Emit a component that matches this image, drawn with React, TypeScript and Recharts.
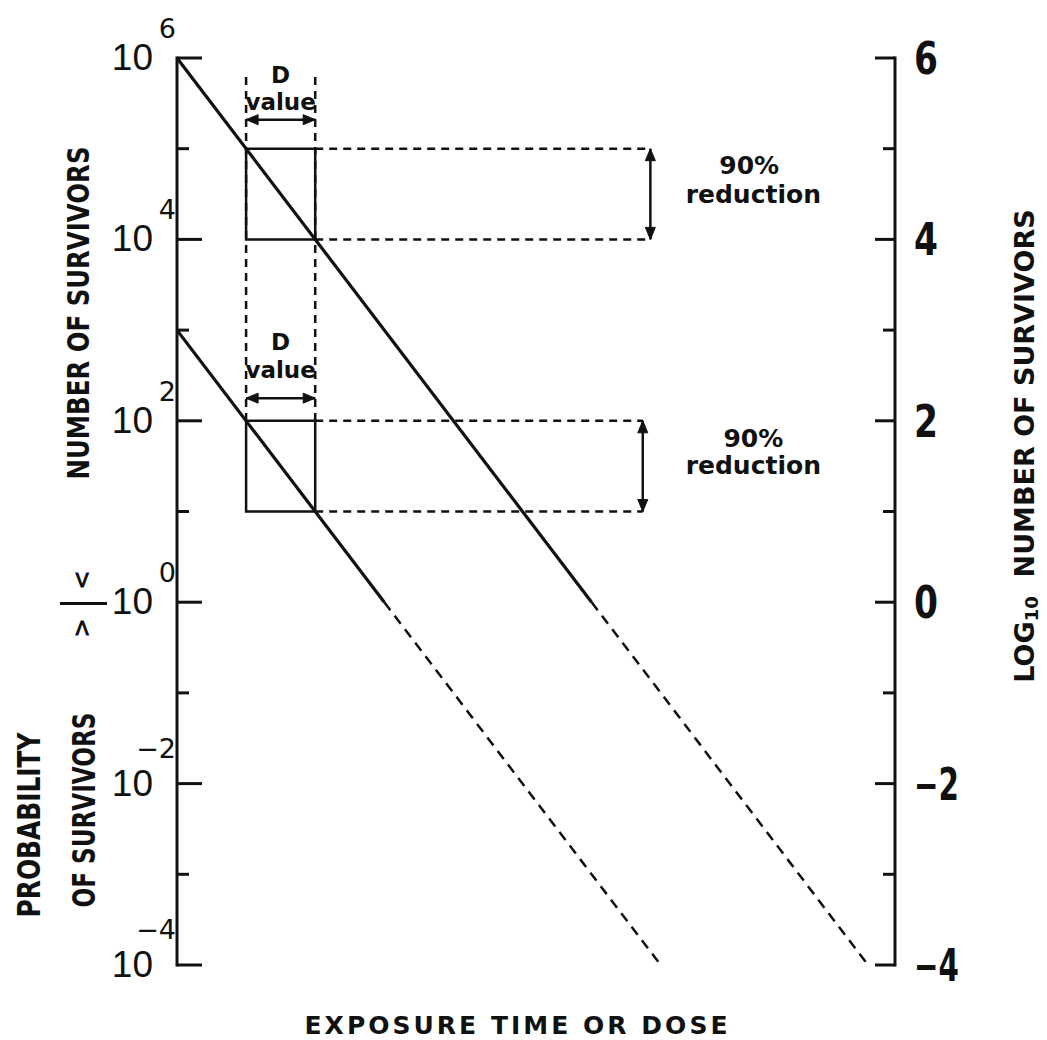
import React from 'react';
import {
  ComposedChart,
  Line,
  XAxis,
  YAxis,
  ReferenceArea,
  ReferenceLine,
  ReferenceDot,
  Customized,
} from 'recharts';

const INK = '#111';
const FONT = '"DejaVu Sans", sans-serif';
const NARROW = '"Liberation Sans", Arial, sans-serif';

// log10 survivors vs dose (dose measured in D values)
const upperDose = [0, 6, 10];
const upperLog = [6, 0, -4];
const lowerDose = [0, 3, 7];
const lowerLog = [3, 0, -4];

const logTicks = [-4, -3, -2, -1, 0, 1, 2, 3, 4, 5, 6];
const labelledTicks = [-4, -2, 0, 2, 4, 6];

// one D value = one log reduction
const dValueDose = [1, 2];
const upperBoxLog = [4, 5];
const lowerBoxLog = [1, 2];

const X_MAX = 10.39;

const toPoints = (xs: number[], ys: number[]) => xs.map((x, i) => ({ x, y: ys[i] }));
// below 10^0 survivors the lines are drawn dashed
const upperSolid = toPoints(upperDose.slice(0, 2), upperLog.slice(0, 2));
const upperDashed = toPoints(upperDose.slice(1), upperLog.slice(1));
const lowerSolid = toPoints(lowerDose.slice(0, 2), lowerLog.slice(0, 2));
const lowerDashed = toPoints(lowerDose.slice(1), lowerLog.slice(1));

const fmt = (v: number) => (v < 0 ? `\u2212${-v}` : `${v}`);

const LeftTick = (p: any) => {
  const { x, y, payload } = p;
  const v = payload.value;
  const major = labelledTicks.includes(v);
  return (
    <g>
      <line x1={x} x2={x + (major ? 25 : 12)} y1={y} y2={y} stroke={INK} strokeWidth={3} />
      {major && (
        <text x={x - 24} y={y + 12} textAnchor="end" fontSize={37} fill={INK} fontFamily={NARROW}>
          10
        </text>
      )}
      {major && (
        <text
          x={x - 1}
          y={y - (v < 0 ? 26 : 20)}
          textAnchor="end"
          fontSize={27}
          fill={INK}
          fontFamily={FONT}
        >
          {fmt(v)}
        </text>
      )}
    </g>
  );
};

const RightTick = (p: any) => {
  const { x, y, payload } = p;
  const v = payload.value;
  const major = labelledTicks.includes(v);
  const label = fmt(v);
  return (
    <g>
      <line x1={x - (major ? 20 : 12)} x2={x} y1={y} y2={y} stroke={INK} strokeWidth={3} />
      {major && (
        <text
          x={x + 19}
          y={y + 16}
          fontSize={44}
          fontWeight="bold"
          textLength={label.length > 1 ? 45 : 24}
          lengthAdjust="spacingAndGlyphs"
          fill={INK}
          fontFamily={FONT}
        >
          {label}
        </text>
      )}
    </g>
  );
};

const arrowHead = (dir: 'up' | 'down' | 'left' | 'right') => (p: any) => {
  const { cx, cy } = p;
  const L = 12;
  const W = 5;
  let d = '';
  if (dir === 'up') d = `M${cx},${cy} L${cx - W},${cy + L} L${cx + W},${cy + L} Z`;
  if (dir === 'down') d = `M${cx},${cy} L${cx - W},${cy - L} L${cx + W},${cy - L} Z`;
  if (dir === 'left') d = `M${cx},${cy} L${cx + L},${cy - W} L${cx + L},${cy + W} Z`;
  if (dir === 'right') d = `M${cx},${cy} L${cx - L},${cy - W} L${cx - L},${cy + W} Z`;
  return <path d={d} fill={INK} stroke={INK} strokeWidth={1} />;
};

const textShape = (text: string, size: number) => (p: any) => (
  <text
    x={p.cx}
    y={p.cy}
    textAnchor="middle"
    dominantBaseline="central"
    fontSize={size}
    fontWeight="bold"
    fill={INK}
    fontFamily={FONT}
  >
    {text}
  </text>
);

// annotation placement (data coordinates)
const reductionArrows = [
  { x: 6.85, top: upperBoxLog[1], bottom: upperBoxLog[0] },
  { x: 6.74, top: lowerBoxLog[1], bottom: lowerBoxLog[0] },
];
const dArrows = [5.32, 2.25];
const notes = [
  { x: 1.5, y: 5.81, text: 'D', size: 23 },
  { x: 1.5, y: 5.52, text: 'value', size: 23 },
  { x: 1.5, y: 2.87, text: 'D', size: 23 },
  { x: 1.5, y: 2.56, text: 'value', size: 23 },
  { x: 8.28, y: 4.82, text: '90%', size: 25 },
  { x: 8.34, y: 4.5, text: 'reduction', size: 25 },
  { x: 8.34, y: 1.81, text: '90%', size: 25 },
  { x: 8.34, y: 1.51, text: 'reduction', size: 25 },
];

const Titles = () => (
  <g fontFamily={FONT} fill={INK} fontWeight="bold">
    <text
      transform="translate(70,305) rotate(-90)"
      textAnchor="middle"
      dominantBaseline="central"
      fontSize={30}
      textLength={333}
      lengthAdjust="spacingAndGlyphs"
    >
      NUMBER OF SURVIVORS
    </text>
    <text transform="translate(74,572) rotate(-90)" textAnchor="middle" dominantBaseline="central" fontSize={24}>
      {'<'}
    </text>
    <rect x={52} y={594} width={47} height={3} fill={INK} />
    <text transform="translate(74,620) rotate(-90)" textAnchor="middle" dominantBaseline="central" fontSize={24}>
      {'>'}
    </text>
    <text
      transform="translate(21,817) rotate(-90)"
      textAnchor="middle"
      dominantBaseline="central"
      fontSize={32}
      textLength={185}
      lengthAdjust="spacingAndGlyphs"
    >
      PROBABILITY
    </text>
    <text
      transform="translate(76,802) rotate(-90)"
      textAnchor="middle"
      dominantBaseline="central"
      fontSize={32}
      textLength={195}
      lengthAdjust="spacingAndGlyphs"
    >
      OF SURVIVORS
    </text>
    <text
      transform="translate(1016,438) rotate(-90)"
      textAnchor="middle"
      dominantBaseline="central"
      fontSize={27}
    >
      LOG
      <tspan fontSize={18} dy={7}>
        10
      </tspan>
      <tspan dy={-7}>{'\u00A0\u00A0NUMBER OF SURVIVORS'}</tspan>
    </text>
    <text
      x={508}
      y={1017}
      textAnchor="middle"
      dominantBaseline="central"
      fontSize={25}
      textLength={423}
      lengthAdjust="spacing"
    >
      EXPOSURE TIME OR DOSE
    </text>
  </g>
);

const axisLine = { stroke: INK, strokeWidth: 3, strokeLinecap: 'square' as const };
const dash = { stroke: INK, strokeWidth: 2.5, strokeDasharray: '8 6' };

export default function App() {
  return (
    <div style={{ fontFamily: FONT, background: '#fff' }}>
      <ComposedChart width={1039} height={1032} margin={{ top: 50, right: 0, bottom: 75, left: 0 }}>
        <XAxis
          type="number"
          dataKey="x"
          domain={[0, X_MAX]}
          allowDataOverflow
          height={0}
          tick={false}
          tickLine={false}
          axisLine={axisLine}
        />
        <XAxis
          xAxisId="top"
          orientation="top"
          type="number"
          dataKey="x"
          domain={[0, X_MAX]}
          allowDataOverflow
          height={0}
          tick={false}
          tickLine={false}
          axisLine={axisLine}
        />
        <YAxis
          type="number"
          domain={[-4, 6]}
          allowDataOverflow
          ticks={logTicks}
          interval={0}
          width={169}
          tickSize={0}
          tickMargin={0}
          tickLine={false}
          axisLine={axisLine}
          tick={(p: any) => <LeftTick {...p} />}
        />
        <YAxis
          yAxisId="right"
          orientation="right"
          type="number"
          domain={[-4, 6]}
          allowDataOverflow
          ticks={logTicks}
          interval={0}
          width={152}
          tickSize={0}
          tickMargin={0}
          tickLine={false}
          axisLine={axisLine}
          tick={(p: any) => <RightTick {...p} />}
        />

        {[upperBoxLog, lowerBoxLog].map((b, i) => (
          <ReferenceArea
            key={`box-${i}`}
            x1={dValueDose[0]}
            x2={dValueDose[1]}
            y1={b[0]}
            y2={b[1]}
            fill="none"
            stroke={INK}
            strokeWidth={2.5}
          />
        ))}
        {dValueDose.map((d) => (
          <ReferenceLine
            key={`dv-${d}`}
            segment={[
              { x: d, y: 5.79 },
              { x: d, y: lowerBoxLog[1] },
            ]}
            {...dash}
          />
        ))}
        {reductionArrows.map((a, i) => [
          <ReferenceLine
            key={`ht-${i}`}
            segment={[
              { x: dValueDose[1], y: a.top },
              { x: a.x, y: a.top },
            ]}
            {...dash}
          />,
          <ReferenceLine
            key={`hb-${i}`}
            segment={[
              { x: dValueDose[1], y: a.bottom },
              { x: a.x, y: a.bottom },
            ]}
            {...dash}
          />,
          <ReferenceLine
            key={`va-${i}`}
            segment={[
              { x: a.x, y: a.top },
              { x: a.x, y: a.bottom },
            ]}
            stroke={INK}
            strokeWidth={2.5}
          />,
          <ReferenceDot key={`vu-${i}`} x={a.x} y={a.top} r={1} shape={arrowHead('up')} />,
          <ReferenceDot key={`vd-${i}`} x={a.x} y={a.bottom} r={1} shape={arrowHead('down')} />,
        ])}
        {dArrows.map((y, i) => [
          <ReferenceLine
            key={`da-${i}`}
            segment={[
              { x: dValueDose[0], y },
              { x: dValueDose[1], y },
            ]}
            stroke={INK}
            strokeWidth={2.5}
          />,
          <ReferenceDot key={`dl-${i}`} x={dValueDose[0]} y={y} r={1} shape={arrowHead('left')} />,
          <ReferenceDot key={`dr-${i}`} x={dValueDose[1]} y={y} r={1} shape={arrowHead('right')} />,
        ])}
        {notes.map((n, i) => (
          <ReferenceDot key={`n-${i}`} x={n.x} y={n.y} r={1} shape={textShape(n.text, n.size)} />
        ))}

        <Line data={upperSolid} dataKey="y" type="linear" stroke={INK} strokeWidth={3.2} dot={false} activeDot={false} isAnimationActive={false} />
        <Line data={upperDashed} dataKey="y" type="linear" stroke={INK} strokeWidth={2.5} strokeDasharray="10 7" dot={false} activeDot={false} isAnimationActive={false} />
        <Line data={lowerSolid} dataKey="y" type="linear" stroke={INK} strokeWidth={3.2} dot={false} activeDot={false} isAnimationActive={false} />
        <Line data={lowerDashed} dataKey="y" type="linear" stroke={INK} strokeWidth={2.5} strokeDasharray="10 7" dot={false} activeDot={false} isAnimationActive={false} />

        <Customized component={Titles} />
      </ComposedChart>
    </div>
  );
}
